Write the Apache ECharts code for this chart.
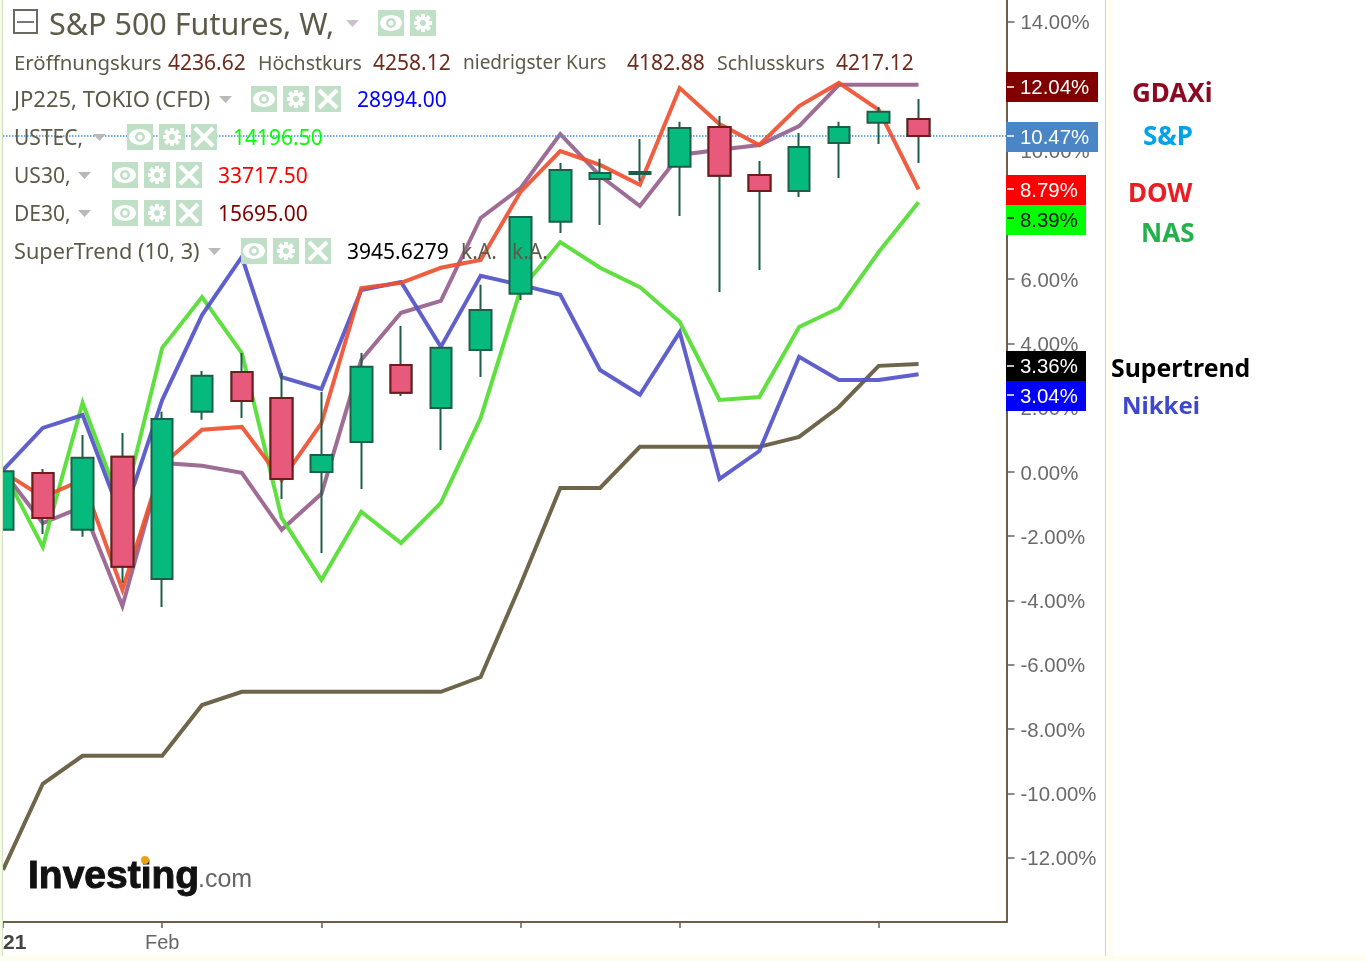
<!DOCTYPE html>
<html>
<head>
<meta charset="utf-8">
<title>S&amp;P 500 Futures</title>
<script src="https://cdn.jsdelivr.net/npm/echarts@6/dist/echarts.min.js"></script>
<style>
  html, body { margin: 0; padding: 0; background: #fff; }
  #chart-container { width: 1366px; height: 961px; }
</style>
</head>
<body>
<div id="chart-container"></div>
<script>
// weekly bars, index = week, 24 bars in the picture
const weeks = [0, 1, 2, 3, 4, 5, 6, 7, 8, 9, 10, 11, 12, 13, 14, 15, 16, 17, 18, 19, 20, 21, 22, 23];

const openVals = [-1.8, -0.03, -1.8, 0.47, -3.33, 1.87, 3.11, 2.3, 0, 0.93, 3.33, 1.99, 3.79, 5.54, 7.78, 9.11, 9.27, 9.49, 10.73, 9.24, 8.74, 10.23, 10.86, 10.98];
const closeVals = [0.02, -1.43, 0.44, -2.95, 1.65, 2.99, 2.21, -0.22, 0.53, 3.27, 2.46, 3.86, 5.04, 7.93, 9.39, 9.3, 9.33, 10.7, 9.21, 8.74, 10.11, 10.73, 11.2, 10.45];
const lowVals = [-1.8, -1.93, -2.02, -3.45, -4.2, 1.62, 1.68, -0.84, -2.52, -0.53, 2.36, 0.68, 2.95, 5.35, 7.43, 7.68, 9.05, 7.96, 5.6, 6.28, 8.55, 9.14, 10.2, 9.61];
const highVals = [0.02, 0.09, 1.15, 1.21, 1.87, 3.14, 3.7, 3.08, 2.49, 3.7, 4.54, 3.89, 5.82, 7.96, 9.61, 9.74, 10.36, 10.89, 11.07, 9.67, 10.54, 10.89, 11.35, 11.6];

const nikkei = [0.06, 1.37, 1.77, -1.49, 2.24, 4.88, 6.69, 2.95, 2.58, 5.66, 5.91, 3.89, 6.1, 5.82, 5.51, 3.17, 2.4, 4.35, -0.22, 0.65, 3.58, 2.86, 2.86, 3.04];
const nas = [0.06, -2.33, 2.15, -1.18, 3.86, 5.44, 3.7, -1.43, -3.36, -1.24, -2.21, -0.96, 1.68, 5.66, 7.15, 6.35, 5.75, 4.67, 2.24, 2.33, 4.51, 5.1, 6.84, 8.39];
const dow = [0, -0.78, -0.25, -3.67, 0.22, 1.31, 1.4, -0.25, 1.52, 5.72, 5.88, 6.35, 6.59, 8.71, 9.98, 9.55, 8.93, 11.94, 10.82, 10.17, 11.38, 12.1, 11.26, 8.79];
const gdaxi = [0.03, -1.59, -1.09, -4.17, 0.28, 0.19, -0.03, -1.8, -0.68, 3.48, 4.95, 5.32, 7.9, 8.83, 10.51, 9.21, 8.27, 9.86, 10.02, 10.17, 10.76, 12.04, 12.04, 12.04];
const supertrend = [-12.38, -9.7, -8.83, -8.83, -8.83, -7.25, -6.84, -6.84, -6.84, -6.84, -6.84, -6.84, -6.38, -3.51, -0.5, -0.5, 0.78, 0.78, 0.78, 0.78, 1.09, 2.02, 3.3, 3.36];

const yTicks = [14, 12, 10, 8, 6, 4, 2, 0, -2, -4, -6, -8, -10, -12];
const xTicks = [0, 4, 8, 13, 17, 22];
const xTickLabels = ["21", "Feb", "", "", "", ""];
const lastPrice = 10.47;

const DARK = "#6b5f45";
const TEXT = "#5c5a48";
const VALUE = "#6e2b1c";
const LABEL_FONT = '"Noto Sans", sans-serif';
const PALE = "#bfdfc6";

let dom = document.getElementById("chart-container");
let myChart = echarts.init(dom, null, { renderer: "canvas" });

// header and side text, drawn on top of the plot
let g = [];

function txt(text, x, y, fill, font, extra) {
  g.push({
    type: "text",
    z: 60,
    silent: true,
    style: Object.assign({ text: text, x: x, y: y, fill: fill, font: font, textVerticalAlign: "middle" }, extra || {}),
  });
}

function box(x, y, w, h, fill) {
  g.push({ type: "rect", z: 50, silent: true, shape: { x: x, y: y, width: w, height: h }, style: { fill: fill } });
}

function stroke(x1, y1, x2, y2, color, width) {
  g.push({
    type: "line",
    z: 55,
    silent: true,
    shape: { x1: x1, y1: y1, x2: x2, y2: y2 },
    style: { stroke: color, lineWidth: width },
  });
}

function circle(cx, cy, r, fill) {
  g.push({ type: "circle", z: 56, silent: true, shape: { cx: cx, cy: cy, r: r }, style: { fill: fill } });
}

function icon(kind, x, y) {
  box(x, y, 26, 26, PALE);
  const cx = x + 13;
  const cy = y + 13;
  if (kind === "eye") {
    g.push({ type: "ellipse", z: 56, silent: true, shape: { cx: cx, cy: cy, rx: 11, ry: 8 }, style: { fill: "#fff" } });
    circle(cx, cy, 5, PALE);
    circle(cx, cy, 2.5, "#fff");
  } else if (kind === "gear") {
    stroke(cx - 9, cy, cx + 9, cy, "#fff", 4);
    stroke(cx, cy - 9, cx, cy + 9, "#fff", 4);
    stroke(cx - 6.5, cy - 6.5, cx + 6.5, cy + 6.5, "#fff", 4);
    stroke(cx - 6.5, cy + 6.5, cx + 6.5, cy - 6.5, "#fff", 4);
    circle(cx, cy, 6.5, "#fff");
    circle(cx, cy, 3, PALE);
  } else {
    stroke(cx - 9, cy - 9, cx + 9, cy + 9, "#fff", 4);
    stroke(cx - 9, cy + 9, cx + 9, cy - 9, "#fff", 4);
  }
}

function triangle(x, y, w, h, fill) {
  g.push({
    type: "polygon",
    z: 55,
    silent: true,
    shape: { points: [[x, y], [x + w, y], [x + w / 2, y + h]] },
    style: { fill: fill },
  });
}

// page edges
box(0, 0, 2, 961, "#f7fbe6");
box(2, 0, 1, 961, "#cfe3c4");
box(1105, 0, 1, 961, "#c9d9c9");
box(1106, 0, 7, 961, "#fffcf4");
box(0, 956, 1366, 5, "#fdfdf0");

// title row
g.push({
  type: "rect",
  z: 55,
  silent: true,
  shape: { x: 14, y: 10, width: 23, height: 23 },
  style: { fill: "#fff", stroke: "#6a6a60", lineWidth: 2 },
});
stroke(17, 22, 34, 22, "#777", 2);
txt("S&P 500 Futures, W,", 49, 26, TEXT, "30.5px " + LABEL_FONT);
triangle(346, 20, 13, 7, "#cdbfd0");
icon("eye", 378, 10);
icon("gear", 410, 10);

// OHLC row
const rowFont = "21px " + LABEL_FONT;
txt("Eröffnungskurs", 14, 64, TEXT, "20.4px " + LABEL_FONT);
txt("4236.62", 168, 64, VALUE, rowFont);
txt("Höchstkurs", 258, 64, TEXT, "19.5px " + LABEL_FONT);
txt("4258.12", 373, 64, VALUE, rowFont);
txt("niedrigster Kurs", 463, 64, TEXT, "19px " + LABEL_FONT);
txt("4182.88", 627, 64, VALUE, rowFont);
txt("Schlusskurs", 717, 64, TEXT, "19.5px " + LABEL_FONT);
txt("4217.12", 836, 64, VALUE, rowFont);

// indicator rows: name, y, name font size, triangle x, icon x list, value, value x, colour
function row(name, y, size, triX, iconX, value, valueX, color) {
  txt(name, 14, y + 2, TEXT, size + "px " + LABEL_FONT);
  triangle(triX, y - 3, 13, 7, "#b9b9b9");
  icon("eye", iconX[0], y - 13);
  icon("gear", iconX[1], y - 13);
  icon("x", iconX[2], y - 13);
  txt(value, valueX, y + 2, color, rowFont);
}
row("JP225, TOKIO (CFD)", 99, 22, 219, [251, 283, 315], "28994.00", 357, "#0000ff");
row("USTEC,", 137, 21, 93, [127, 159, 191], "14196.50", 233, "#00ff00");
row("US30,", 175, 21, 78, [112, 144, 176], "33717.50", 218, "#ff0000");
row("DE30,", 213, 21, 78, [112, 144, 176], "15695.00", 218, "#800000");
row("SuperTrend (10, 3)", 251, 21.7, 208, [241, 273, 305], "3945.6279", 347, "#000000");
txt("k.A.", 461, 253, TEXT, rowFont);
txt("k.A.", 512, 253, TEXT, rowFont);

// price tags on the axis
const tagFont = '20.4px "Liberation Sans", Arial, sans-serif';
function tag(text, x, y, w, h, fill, color, tickY) {
  box(x, y, w, h, fill);
  stroke(1007, tickY, 1014, tickY, color, 1.5);
  txt(text, x + 14, y + h / 2 + 1, color, tagFont);
}
tag("12.04%", 1006, 72, 92, 30, "#800000", "#fff", 87);
tag("10.47%", 1006, 122, 92, 30, "#4a86c6", "#fff", 136);
tag("8.79%", 1006, 175, 80, 30, "#ff0000", "#fff", 189);
tag("8.39%", 1006, 205, 80, 30, "#00ff00", "#111", 218);
tag("3.36%", 1006, 351, 80, 30, "#000000", "#fff", 366);
tag("3.04%", 1006, 381, 80, 30, "#0000ff", "#fff", 395);

// side names
const sideFont = "bold 26px " + LABEL_FONT;
txt("GDAXi", 1132, 95, "#8b0a22", sideFont);
txt("S&P", 1143, 138, "#00a2e8", sideFont);
txt("DOW", 1128, 195, "#ed1c24", sideFont);
txt("NAS", 1141, 235, "#22b14c", sideFont);
txt("Supertrend", 1111, 370, "#000000", "bold 24.8px " + LABEL_FONT);
txt("Nikkei", 1122, 407, "#3f48cc", "bold 24px " + LABEL_FONT);

// logo
txt("Investing", 28, 877, "#111111", 'bold 39px "Liberation Sans", Arial, sans-serif', { stroke: "#111111", lineWidth: 1 });
txt(".com", 198, 880, "#666666", '25px "Liberation Sans", Arial, sans-serif');
g.push({ type: "circle", z: 61, silent: true, shape: { cx: 145, cy: 860, r: 4 }, style: { fill: "#e8a317" } });

function lineSeries(name, values, color, z) {
  return {
    name: name,
    type: "line",
    z: z,
    data: weeks.map((w, i) => [w, values[i]]),
    symbol: "none",
    lineStyle: { color: color, width: 4, opacity: 0.92, join: "miter" },
    silent: true,
  };
}

let option = {
  animation: false,
  backgroundColor: "#fff",
  grid: { left: 3, top: 0, width: 1003.5, height: 922, containLabel: false },
  xAxis: {
    type: "value",
    min: 0,
    max: 25.21,
    axisLine: { onZero: false, lineStyle: { color: DARK, width: 2 } },
    axisTick: { length: 6, lineStyle: { color: DARK, width: 1.5 }, customValues: xTicks },
    splitLine: { show: false },
    axisLabel: {
      customValues: xTicks,
      margin: 11,
      alignMinLabel: "left",
      color: "#666",
      fontFamily: "Liberation Sans",
      fontSize: 20,
      formatter: (value) => {
        const label = xTickLabels[xTicks.indexOf(value)];
        return label === "21" ? "{yr|21}" : label;
      },
      rich: { yr: { color: "#444", fontWeight: "bold", fontSize: 21, fontFamily: "Liberation Sans" } },
    },
  },
  yAxis: {
    type: "value",
    position: "right",
    min: -14,
    max: 14.68,
    axisLine: { show: true, onZero: false, lineStyle: { color: DARK, width: 2 } },
    axisTick: { length: 8, lineStyle: { color: "#666", width: 1.5 }, customValues: yTicks },
    splitLine: { show: false },
    axisLabel: {
      customValues: yTicks,
      margin: 14,
      formatter: (value) => "{t|" + value.toFixed(2) + "%}",
      rich: {
        // sits a little under the tick in the picture
        t: { color: "#6a6a6a", fontFamily: "Liberation Sans", fontSize: 20.4, padding: [4, 0, 0, 0] },
      },
    },
  },
  series: [
    lineSeries("Supertrend", supertrend, "#62583c", 2),
    lineSeries("GDAXi", gdaxi, "#96608c", 3),
    lineSeries("NAS", nas, "#52dc30", 3),
    lineSeries("Nikkei", nikkei, "#5252c8", 4),
    lineSeries("DOW", dow, "#ee5030", 5),
    // wicks are dark green on every bar
    {
      name: "S&P 500",
      type: "candlestick",
      z: 6,
      barWidth: 22,
      silent: true,
      encode: { x: 0, y: [1, 2, 3, 4] },
      data: weeks.map((w, i) => [w, openVals[i], closeVals[i], lowVals[i], highVals[i]]),
      itemStyle: {
        color: "#06ba7e",
        color0: "#e85a7c",
        borderColor: "#1c5e48",
        borderColor0: "#1c5e48",
        borderWidth: 2,
      },
    },
    // falling bodies get a maroon outline, drawn over the wick series
    {
      name: "S&P 500 down",
      type: "candlestick",
      z: 7,
      barWidth: 22,
      silent: true,
      encode: { x: 0, y: [1, 2, 3, 4] },
      data: weeks
        .filter((w, i) => closeVals[i] < openVals[i])
        .map((w) => [w, openVals[w], closeVals[w], closeVals[w], openVals[w]]),
      itemStyle: { color0: "#e85a7c", borderColor0: "#6e1c1c", borderWidth: 2 },
    },
    // last price guide line
    {
      name: "last",
      type: "line",
      z: 8,
      data: [],
      silent: true,
      markLine: {
        silent: true,
        symbol: "none",
        label: { show: false },
        lineStyle: { color: "#3f94ea", type: "dotted", width: 1.5 },
        data: [{ yAxis: lastPrice }],
      },
    },
  ],
  graphic: { elements: g },
};

if (option && typeof option === "object") {
  myChart.setOption(option);
}

window.addEventListener("resize", myChart.resize);
</script>
</body>
</html>
